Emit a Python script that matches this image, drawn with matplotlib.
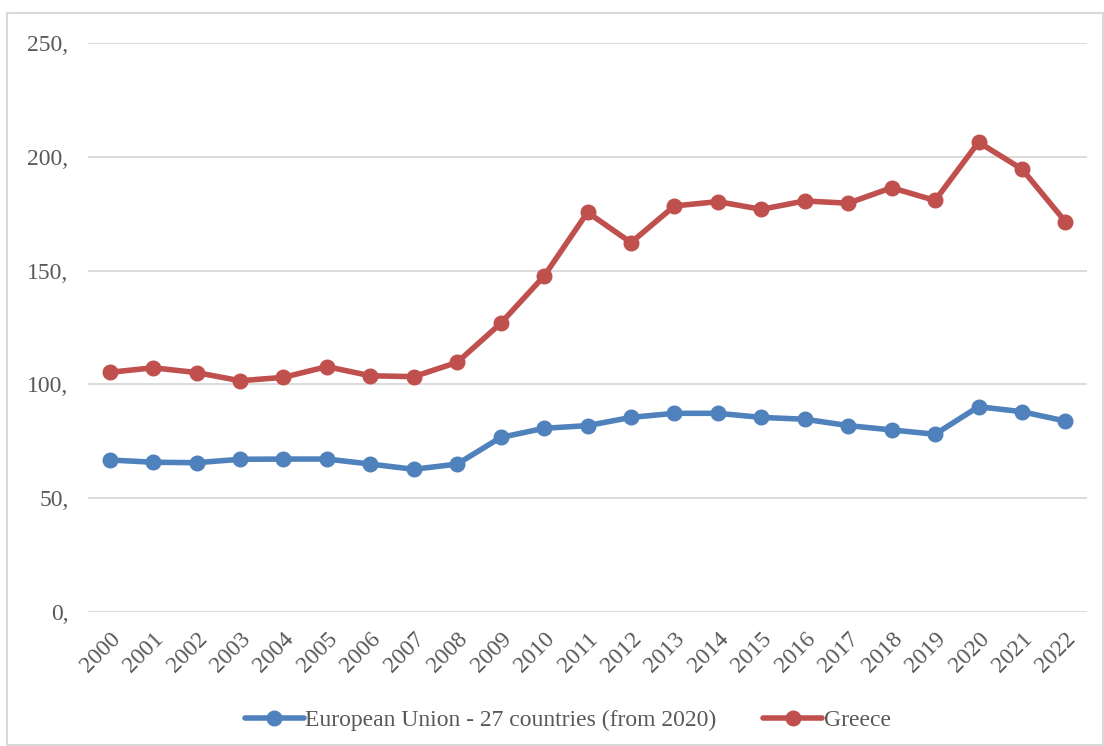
import matplotlib.pyplot as plt
from matplotlib.patches import Rectangle

plt.rcParams['font.family'] = ['Liberation Serif', 'DejaVu Serif']

years = [str(y) for y in range(2000, 2023)]
eu27 = [66.8, 65.8, 65.6, 67.1, 67.2, 67.2, 65.0, 62.7, 65.0, 76.7, 80.7, 81.9,
        85.5, 87.3, 87.3, 85.5, 84.7, 81.9, 80.0, 78.1, 90.2, 88.0, 83.9]
greece = [105.3, 107.3, 105.2, 101.6, 103.1, 107.8, 103.8, 103.4, 109.7, 126.8, 147.6, 175.6,
          162.3, 178.4, 180.3, 176.9, 180.6, 179.6, 186.4, 180.8, 206.4, 194.6, 171.5]
yticks = [0, 50, 100, 150, 200, 250]

fig = plt.figure(figsize=(11.04, 7.46), dpi=100)
ax = fig.add_axes([0.0797, 0.1796, 0.905, 0.7628])

# light frame round the whole chart
fig.patches.append(Rectangle((7 / 1104, 1 / 746), 1096 / 1104, 732 / 746, transform=fig.transFigure,
                             fill=False, edgecolor='#D9D9D9', lw=1.5))

x = range(len(years))
ax.plot(x, eu27, c='#4F81BD', lw=4, marker='o', ms=10.5, solid_capstyle='round',
        label='European Union - 27 countries (from 2020)')
ax.plot(x, greece, c='#C0504D', lw=4, marker='o', ms=10.5, solid_capstyle='round',
        label='Greece')

ax.set_xlim(-0.5, len(years) - 0.5)
ax.set_ylim(0, 250)
ax.set_yticks(yticks)
ax.set_yticklabels(['%d,' % v for v in yticks])
ax.set_xticks(list(x))
ax.set_xticklabels(years, rotation=45, ha='right', rotation_mode='anchor')
ax.grid(axis='y', color='#D9D9D9', lw=1.3)
ax.set_axisbelow(True)
for sp in ax.spines.values():
    sp.set_visible(False)
ax.tick_params(length=0, labelsize=17, colors='#595959')
ax.tick_params(axis='y', pad=14)
ax.tick_params(axis='x', pad=12)

ax.legend(loc='center', bbox_to_anchor=(0.48, -0.19), ncol=2, frameon=False, fontsize=17,
          labelcolor='#595959', handlelength=2.5, handletextpad=0.05, columnspacing=2.0)

fig.savefig('out.png', dpi=100)
